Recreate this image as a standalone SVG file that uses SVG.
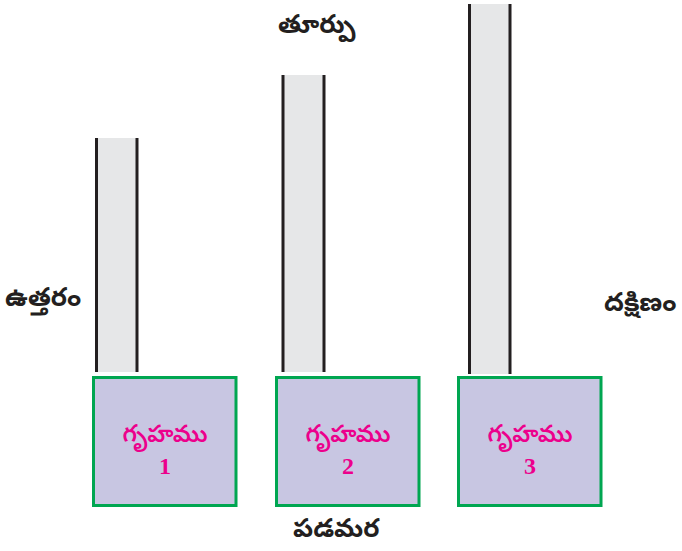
<svg xmlns="http://www.w3.org/2000/svg" width="682" height="551" viewBox="0 0 682 551">
<style>
.pillar{fill:#e6e7e8;stroke:none}
.pline{stroke:#231f20;stroke-width:3;fill:none}
.box{fill:#c8c6e2;stroke:#00a651;stroke-width:3}
.lbl{font-family:"Noto Sans Telugu","Noto Sans","DejaVu Sans",sans-serif;font-weight:bold;font-size:26px;fill:#231f20}
.hl{font-family:"Noto Sans Telugu","Noto Sans","DejaVu Sans",sans-serif;font-weight:600;font-size:24px;fill:#ec008c;text-anchor:middle}
.num{font-family:"Liberation Serif",serif;font-weight:bold;font-size:24px;fill:#ec008c;text-anchor:middle}
</style>
<rect width="682" height="551" fill="#ffffff"/>
<g id="pillar1">
<rect class="pillar" x="96" y="138" width="41" height="234"/>
<line class="pline" x1="96.5" y1="138" x2="96.5" y2="372"/>
<line class="pline" x1="137" y1="138" x2="137" y2="372"/>
</g>
<g id="pillar2">
<rect class="pillar" x="282" y="75" width="42" height="297"/>
<line class="pline" x1="283" y1="75" x2="283" y2="372"/>
<line class="pline" x1="324" y1="75" x2="324" y2="372"/>
</g>
<g id="pillar3">
<rect class="pillar" x="469" y="4" width="41" height="370"/>
<line class="pline" x1="469.5" y1="4" x2="469.5" y2="374"/>
<line class="pline" x1="510" y1="4" x2="510" y2="374"/>
</g>
<g id="house1">
<rect class="box" x="93.5" y="377.5" width="142.5" height="128"/>
<text class="hl" x="165" y="442">గృహము</text>
<text class="num" x="165" y="474">1</text>
</g>
<g id="house2">
<rect class="box" x="276.5" y="377.5" width="142.5" height="128"/>
<text class="hl" x="348" y="442">గృహము</text>
<text class="num" x="348" y="474">2</text>
</g>
<g id="house3">
<rect class="box" x="458.5" y="377.5" width="142.5" height="128"/>
<text class="hl" x="530" y="442">గృహము</text>
<text class="num" x="530" y="474">3</text>
</g>
<g id="labels">
<text class="lbl" x="278" y="33">తూర్పు</text>
<text class="lbl" x="5" y="306">ఉత్తరం</text>
<text class="lbl" x="604" y="311">దక్షిణం</text>
<text class="lbl" x="293" y="537">పడమర</text>
</g>
</svg>
